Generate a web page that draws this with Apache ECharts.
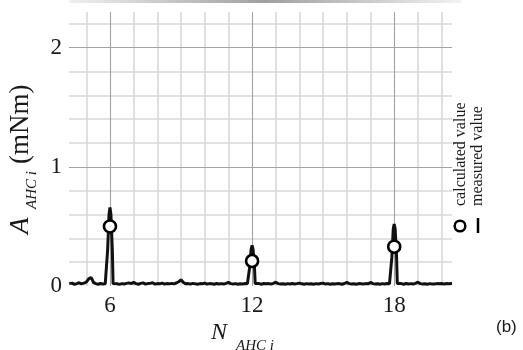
<!DOCTYPE html>
<html>
<head>
<meta charset="utf-8">
<script src="https://cdn.jsdelivr.net/npm/echarts@6/dist/echarts.min.js"></script>
<style>
html,body{margin:0;padding:0;background:#fff;}
#c{width:523px;height:350px;}
</style>
</head>
<body>
<div id="c"></div>
<script>
// ---- data ----
var xTickLabels = [6, 12, 18];
var yTickLabels = [0, 1, 2];
var calcX = [6, 12, 18];
var calcY = [0.50, 0.21, 0.33];
var measuredX = [
  4.28, 4.4, 4.5, 4.6, 4.7, 4.8, 4.9, 5.0, 5.05, 5.1, 5.15, 5.2, 5.25, 5.3, 5.4, 5.5, 5.6, 5.7, 5.8, 5.87,
  5.9, 5.96, 6.0, 6.04, 6.1, 6.13, 6.2, 6.3, 6.4, 6.5, 6.6, 6.7, 6.8, 6.9, 7.0, 7.05, 7.1, 7.2, 7.3, 7.4,
  7.5, 7.6, 7.7, 7.8, 7.9, 8.0, 8.1, 8.2, 8.3, 8.4, 8.5, 8.6, 8.7, 8.8, 8.9, 9.0, 9.1, 9.2, 9.3, 9.4,
  9.5, 9.6, 9.7, 9.8, 9.9, 10.0, 10.1, 10.2, 10.3, 10.4, 10.5, 10.6, 10.7, 10.8, 10.9, 11.0, 11.1, 11.2, 11.3, 11.4,
  11.5, 11.6, 11.7, 11.8, 11.87, 11.9, 11.96, 12.0, 12.04, 12.1, 12.13, 12.2, 12.3, 12.4, 12.5, 12.6, 12.7, 12.8, 12.9, 13.0,
  13.1, 13.2, 13.3, 13.4, 13.5, 13.6, 13.7, 13.8, 13.9, 14.0, 14.1, 14.2, 14.3, 14.4, 14.5, 14.6, 14.7, 14.8, 14.9, 15.0,
  15.1, 15.2, 15.3, 15.4, 15.5, 15.6, 15.7, 15.8, 15.9, 16.0, 16.1, 16.2, 16.3, 16.4, 16.5, 16.6, 16.7, 16.8, 16.9, 17.0,
  17.1, 17.2, 17.3, 17.4, 17.5, 17.6, 17.7, 17.8, 17.87, 17.9, 17.96, 18.0, 18.04, 18.1, 18.13, 18.2, 18.3, 18.4, 18.5, 18.6,
  18.7, 18.8, 18.9, 19.0, 19.1, 19.2, 19.3, 19.4, 19.5, 19.6, 19.7, 19.8, 19.9, 20.0, 20.1, 20.2, 20.3, 20.44
];
var measuredY = [
  0.020, 0.024, 0.014, 0.020, 0.027, 0.018, 0.024, 0.032, 0.046, 0.060, 0.048, 0.072, 0.055, 0.030, 0.020, 0.015, 0.021, 0.016, 0.018, 0.020,
  0.30, 0.60, 0.66, 0.60, 0.30, 0.020, 0.016, 0.019, 0.014, 0.020, 0.016, 0.022, 0.026, 0.020, 0.030, 0.034, 0.020, 0.015, 0.022, 0.026,
  0.016, 0.020, 0.022, 0.028, 0.016, 0.020, 0.018, 0.024, 0.016, 0.020, 0.018, 0.022, 0.018, 0.025, 0.036, 0.052, 0.030, 0.018, 0.020, 0.016,
  0.022, 0.018, 0.015, 0.020, 0.018, 0.024, 0.016, 0.020, 0.018, 0.015, 0.021, 0.017, 0.020, 0.016, 0.022, 0.030, 0.020, 0.016, 0.020, 0.015,
  0.019, 0.016, 0.021, 0.018, 0.020, 0.16, 0.31, 0.34, 0.31, 0.16, 0.020, 0.016, 0.020, 0.015, 0.021, 0.018, 0.020, 0.016, 0.022, 0.032,
  0.020, 0.016, 0.019, 0.015, 0.020, 0.017, 0.021, 0.016, 0.020, 0.024, 0.018, 0.015, 0.020, 0.016, 0.019, 0.015, 0.020, 0.017, 0.021, 0.024,
  0.016, 0.020, 0.015, 0.019, 0.016, 0.020, 0.018, 0.015, 0.021, 0.030, 0.020, 0.016, 0.019, 0.015, 0.020, 0.018, 0.016, 0.020, 0.018, 0.030,
  0.020, 0.016, 0.019, 0.015, 0.020, 0.017, 0.021, 0.018, 0.020, 0.24, 0.48, 0.52, 0.48, 0.24, 0.020, 0.016, 0.020, 0.015, 0.021, 0.017,
  0.020, 0.016, 0.022, 0.032, 0.020, 0.016, 0.019, 0.015, 0.020, 0.017, 0.016, 0.020, 0.018, 0.021, 0.016, 0.020, 0.018, 0.020
];
var minorXLines = [5, 7, 8, 9, 10, 11, 13, 14, 15, 16, 17, 19, 20];
var majorXLines = [6, 12, 18];
var minorYLines = [0.2, 0.4, 0.6, 0.8, 1.2, 1.4, 1.6, 1.8, 2.2];
var majorYLines = [1, 2];
var legendNames = ['calculated value', 'measured value'];

// ---- chart ----
var measured = measuredX.map(function (x, i) { return [x, measuredY[i]]; });
var calc = calcX.map(function (x, i) { return [x, calcY[i]]; });
var serif = '"Liberation Serif", "Times New Roman", serif';

function lines(vals, key, color, width) {
  return vals.map(function (v) {
    var o = {}; o[key] = v;
    o.lineStyle = { color: color, width: width, type: 'solid' };
    return o;
  });
}
var gridLineData = [].concat(
  lines(minorXLines, 'xAxis', '#d9d9d9', 1.6),
  lines(minorYLines, 'yAxis', '#d9d9d9', 1.6),
  lines(majorYLines, 'yAxis', '#a3a3a3', 1.2),
  lines(majorXLines, 'xAxis', '#a3a3a3', 1.1)
);

var chart = echarts.init(document.getElementById('c'), null, { renderer: 'canvas' });
chart.setOption({
  animation: false,
  backgroundColor: '#fff',
  grid: { left: 69, right: 71, top: 12, bottom: 64 },
  xAxis: {
    type: 'value', min: 4.27, max: 20.44,
    axisLine: { show: false }, axisTick: { show: false }, splitLine: { show: false },
    axisLabel: {
      customValues: xTickLabels, margin: 8,
      fontFamily: serif, fontSize: 23, color: '#1a1a1a'
    }
  },
  yAxis: {
    type: 'value', min: 0, max: 2.3, interval: 1,
    axisLine: { show: false }, axisTick: { show: false }, splitLine: { show: false },
    axisLabel: {
      margin: 7, fontFamily: serif, fontSize: 23, color: '#1a1a1a',
      formatter: function (v) { return yTickLabels.indexOf(v) >= 0 ? String(v) : ''; }
    }
  },
  series: [
    {
      name: legendNames[1], type: 'line', data: measured, showSymbol: false, z: 3,
      lineStyle: { color: '#111111', width: 3 },
      markLine: {
        silent: true, symbol: ['none', 'none'], z: 1, animation: false,
        label: { show: false },
        data: gridLineData
      }
    },
    {
      name: legendNames[0], type: 'scatter', data: calc, z: 4,
      symbol: 'circle', symbolSize: 12,
      itemStyle: { color: '#ffffff', borderColor: '#000000', borderWidth: 2.6, opacity: 1 }
    }
  ],
  graphic: [
    {
      type: 'rect', shape: { x: 69, y: 0, width: 392, height: 3 }, silent: true,
      style: {
        fill: new echarts.graphic.LinearGradient(0, 0, 1, 0, [
          { offset: 0, color: '#f0f0f0' }, { offset: 0.5, color: '#a0a0a0' }, { offset: 1, color: '#f2f2f2' }
        ])
      }
    },
    {
      type: 'group', x: 21, y: 236, rotation: Math.PI / 2,
      children: [
        { type: 'text', x: 2, y: 0, style: { text: 'A', font: 'italic 27px ' + serif, fill: '#1a1a1a', textAlign: 'left', textVerticalAlign: 'middle' } },
        { type: 'text', x: 27, y: 11, style: { text: 'AHC i', font: 'italic 15px ' + serif, fill: '#1a1a1a', textAlign: 'left', textVerticalAlign: 'middle' } },
        { type: 'text', x: 72, y: 0, style: { text: '(mNm)', font: '27px ' + serif, fill: '#1a1a1a', textAlign: 'left', textVerticalAlign: 'middle' } }
      ]
    },
    { type: 'text', x: 211, y: 333, style: { text: 'N', font: 'italic 24px ' + serif, fill: '#1a1a1a', textAlign: 'left', textVerticalAlign: 'middle' } },
    { type: 'text', x: 236, y: 346, style: { text: 'AHC i', font: 'italic 15px ' + serif, fill: '#1a1a1a', textAlign: 'left', textVerticalAlign: 'middle' } },
    { type: 'text', x: 496, y: 327, style: { text: '(b)', font: '17px "Liberation Sans", Arial, sans-serif', fill: '#1a1a1a', textAlign: 'left', textVerticalAlign: 'middle' } },
    { type: 'text', x: 461, y: 206, rotation: Math.PI / 2, style: { text: legendNames[0], font: '16px ' + serif, fill: '#1a1a1a', textAlign: 'left', textVerticalAlign: 'middle' } },
    { type: 'text', x: 478, y: 206, rotation: Math.PI / 2, style: { text: legendNames[1], font: '16px ' + serif, fill: '#1a1a1a', textAlign: 'left', textVerticalAlign: 'middle' } },
    { type: 'circle', shape: { cx: 460, cy: 226, r: 5.3 }, style: { fill: '#fff', stroke: '#000', lineWidth: 2.5 } },
    { type: 'line', shape: { x1: 478, y1: 218, x2: 478, y2: 233 }, style: { stroke: '#000', lineWidth: 2.5 } }
  ]
});
</script>
</body>
</html>
